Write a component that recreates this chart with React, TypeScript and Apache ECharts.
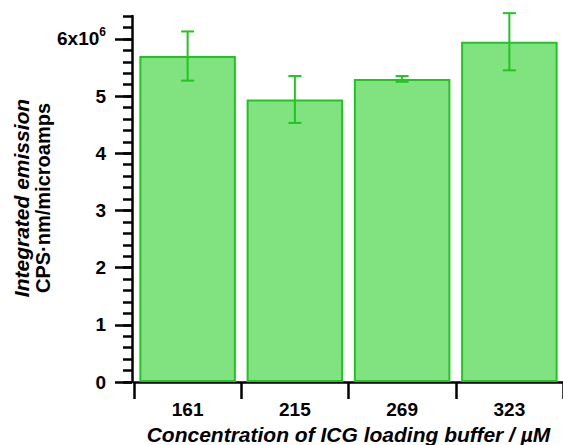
import React, { useEffect, useRef } from "react";
import * as echarts from "echarts";

const categories = ["161", "215", "269", "323"];
const values = [5.7, 4.94, 5.3, 5.95];
const errors = [0.43, 0.41, 0.05, 0.5];
// tick positions of the y axis: every 0.2, labelled at integers
const yTickValues: string[] = [];
for (let i = 0; i <= 32; i++) yTickValues.push(String(i / 5));

const FILL = "#80e380";
const EDGE = "#1fc61f";
const FONT = "'Liberation Sans', Arial, sans-serif";

export default function App() {
  const ref = useRef<HTMLDivElement>(null);
  useEffect(() => {
    if (!ref.current) return;
    const chart = echarts.init(ref.current, undefined, { renderer: "svg" });
    const isMajor = (i: number) => i % 5 === 0;
    chart.setOption({
      animation: false,
      backgroundColor: "#fff",
      textStyle: { fontFamily: FONT },
      grid: { left: 134, right: 0, top: 16, bottom: 63, containLabel: false, outerBoundsMode: "none" },
      xAxis: {
        type: "category",
        data: categories,
        offset: 3,
        axisLine: { show: true, lineStyle: { color: "#000", width: 2.5 } },
        axisTick: { show: true, inside: false, length: 17, lineStyle: { color: "#000", width: 2.5 } },
        axisLabel: { color: "#000", fontSize: 19, fontWeight: "bold", fontFamily: FONT, margin: 15 },
        name: "Concentration of ICG loading buffer / µM",
        nameLocation: "middle",
        nameGap: 33,
        nameTextStyle: { color: "#000", fontSize: 21, lineHeight: 20, fontWeight: "bold", fontStyle: "italic", fontFamily: FONT },
      },
      yAxis: [
        {
          type: "value",
          min: 0,
          max: 6.4,
          interval: 0.2,
          offset: 2,
          splitLine: { show: false },
          axisLine: { show: true, lineStyle: { color: "#000", width: 2.5 } },
          axisTick: { show: true, inside: false, length: 9, lineStyle: { color: "#000", width: 2.5 } },
          axisLabel: { show: false },
        },
        {
          type: "category",
          data: yTickValues,
          boundaryGap: false,
          position: "left",
          offset: 2,
          splitLine: { show: false },
          axisLine: { show: false },
          axisTick: {
            show: true,
            inside: false,
            length: 17,
            interval: (i: number) => isMajor(i),
            lineStyle: { color: "#000", width: 2.5 },
          },
          axisLabel: {
            interval: (i: number) => isMajor(i),
            color: "#000",
            fontSize: 19,
            fontWeight: "bold",
            fontFamily: FONT,
            margin: 26,
            formatter: (v: string) => (v === "6" ? "{a|6x10}{s|6}" : "{a|" + v + "}"),
            rich: {
              a: { fontSize: 19, fontWeight: "bold", fontFamily: FONT, color: "#000", lineHeight: 26 },
              s: { fontSize: 12, fontWeight: "bold", fontFamily: FONT, color: "#000", verticalAlign: "top", lineHeight: 14 },
            },
          },
        },
      ],
      series: [
        {
          type: "bar",
          data: values,
          yAxisIndex: 0,
          barCategoryGap: "10%",
          itemStyle: { color: FILL, borderColor: EDGE, borderWidth: 2 },
        },
        {
          type: "custom",
          yAxisIndex: 0,
          clip: false,
          z: 10,
          data: values.map((v, i) => [i, v - errors[i], v + errors[i]]),
          renderItem: (params: any, api: any) => {
            const x = api.value(0);
            const lo = api.coord([x, api.value(1)]);
            const hi = api.coord([x, api.value(2)]);
            const cap = 6.5;
            const style = { stroke: EDGE, lineWidth: 2, fill: "none" };
            return {
              type: "group",
              children: [
                { type: "line", shape: { x1: lo[0], y1: lo[1], x2: hi[0], y2: hi[1] }, style },
                { type: "line", shape: { x1: lo[0] - cap, y1: lo[1], x2: lo[0] + cap, y2: lo[1] }, style },
                { type: "line", shape: { x1: hi[0] - cap, y1: hi[1], x2: hi[0] + cap, y2: hi[1] }, style },
              ],
            };
          },
        },
      ],
      graphic: [
        {
          type: "text",
          x: 21,
          y: 198,
          rotation: Math.PI / 2,
          style: {
            text: "Integrated emission",
            font: "italic bold 21px " + FONT,
            fill: "#000",
            textAlign: "center",
            textVerticalAlign: "middle",
          },
        },
        {
          type: "text",
          x: 43,
          y: 198,
          rotation: Math.PI / 2,
          style: {
            text: "CPS·nm/microamps",
            font: "bold 20px " + FONT,
            fill: "#000",
            textAlign: "center",
            textVerticalAlign: "middle",
          },
        },
      ],
    });
    return () => chart.dispose();
  }, []);
  return <div ref={ref} style={{ width: 563, height: 445, position: "absolute", left: 0, top: 0 }} />;
}
